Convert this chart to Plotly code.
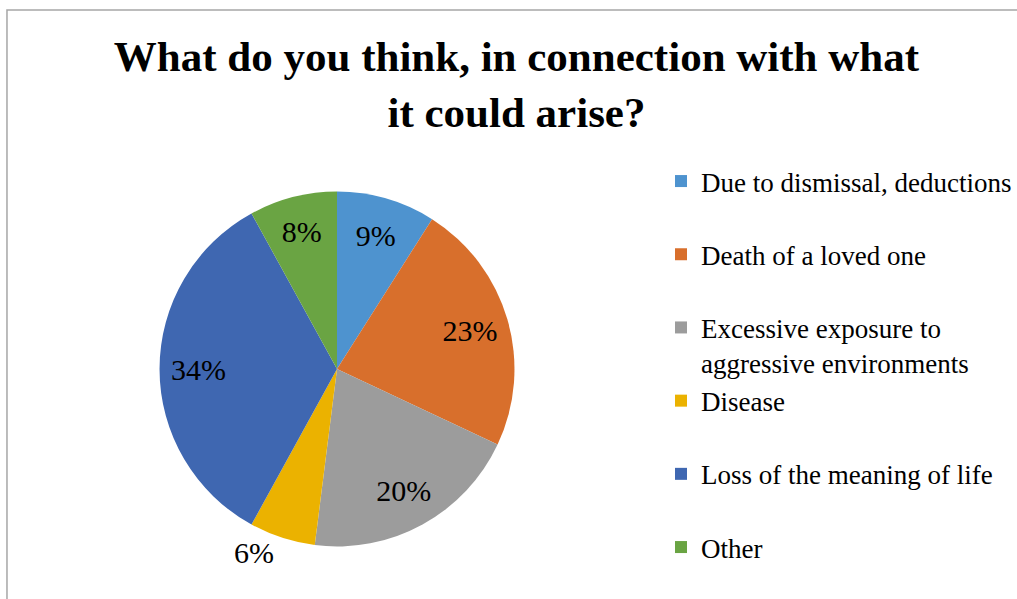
import plotly.graph_objects as go

categories = ["Due to dismissal, deductions", "Death of a loved one",
              "Excessive exposure to<br>aggressive environments", "Disease",
              "Loss of the meaning of life", "Other"]
values = [9, 23, 20, 6, 34, 8]
colors = ["#4E93CF", "#D86F2C", "#9C9C9C", "#EBB200", "#3F67B1", "#6AA443"]
text_positions = ["inside", "inside", "inside", "outside", "inside", "inside"]

W, H = 1017, 599
SERIF = "Liberation Serif, Times New Roman, serif"

# legend entries take two lines each (last one kept single so legend fits)
legend_labels = [c if ("<br>" in c or i == len(categories) - 1) else c + "<br>\u00a0"
                 for i, c in enumerate(categories)]

pie_domain = dict(x=[160 / W, 516 / W], y=[1 - 547 / H, 1 - 191 / H])

fig = go.Figure()
# coloured pie (no text)
fig.add_trace(go.Pie(
    labels=legend_labels,
    values=values,
    sort=False,
    direction="clockwise",
    rotation=0,
    marker=dict(colors=colors, line=dict(width=0)),
    textinfo="none",
    domain=pie_domain,
    hoverinfo="label+percent",
))
# transparent ring on top that carries the percentage labels
fig.add_trace(go.Pie(
    labels=legend_labels,
    values=values,
    sort=False,
    direction="clockwise",
    rotation=0,
    hole=0.56,
    marker=dict(colors=["rgba(0,0,0,0)"] * len(values), line=dict(width=0)),
    texttemplate="%{value}%",
    textposition=text_positions,
    insidetextorientation="horizontal",
    textfont=dict(family=SERIF, size=30, color="black"),
    domain=pie_domain,
    showlegend=False,
    hoverinfo="skip",
))

fig.update_layout(
    width=W, height=H,
    margin=dict(l=0, r=0, t=0, b=0),
    paper_bgcolor="white",
    title=dict(
        text="<b>What do you think, in connection with what<br>it could arise?</b>",
        font=dict(family=SERIF, size=43, color="black"),
        x=518 / W, xanchor="center", xref="paper",
        y=1 - 71 / H, yanchor="top", yref="container",
    ),
    uniformtext=dict(minsize=30, mode="show"),
    legend=dict(
        x=663 / W, xanchor="left",
        y=1 - 157 / H, yanchor="top",
        valign="top",
        font=dict(family=SERIF, size=27, color="black"),
        bgcolor="rgba(0,0,0,0)",
    ),
    shapes=[dict(type="rect", xref="paper", yref="paper",
                 x0=7 / W, x1=1.05, y0=-0.05, y1=1 - 10 / H,
                 line=dict(color="#A6A6A6", width=1.5))],
)

fig.write_html("out.html", config={"displayModeBar": False},
               post_script="document.body.style.margin='0';")
